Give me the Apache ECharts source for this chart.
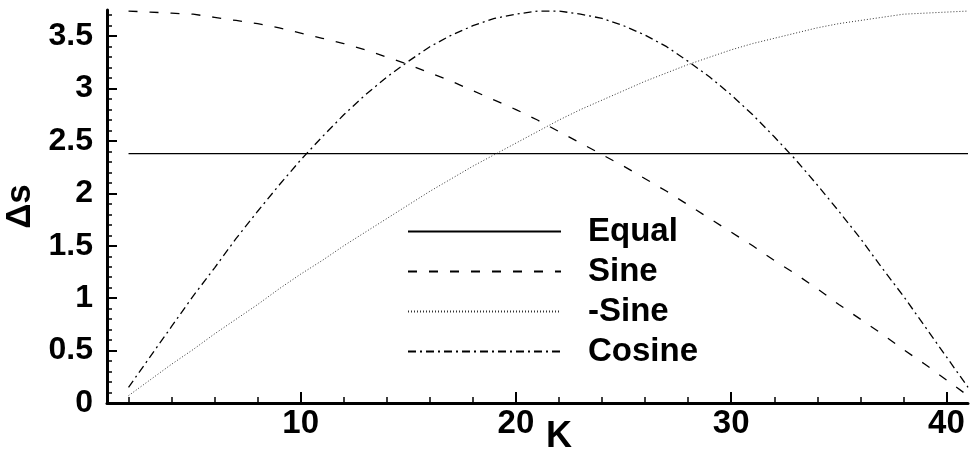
<!DOCTYPE html>
<html>
<head>
<meta charset="utf-8">
<script src="https://cdn.jsdelivr.net/npm/echarts@6/dist/echarts.min.js"></script>
<style>
  html, body { margin: 0; padding: 0; background: #fff; }
  #chart { width: 970px; height: 451px; }
</style>
</head>
<body>
<div id="chart"></div>
<script>
// ---- data ----
const K = [2,3,4,5,6,7,8,9,10,11,12,13,14,15,16,17,18,19,20,21,22,23,24,25,26,27,28,29,30,31,32,33,34,35,36,37,38,39,40,41];
const equalVals = [2.38,2.38,2.38,2.38,2.38,2.38,2.38,2.38,2.38,2.38,2.38,2.38,2.38,2.38,2.38,2.38,2.38,2.38,2.38,2.38,2.38,2.38,2.38,2.38,2.38,2.38,2.38,2.38,2.38,2.38,2.38,2.38,2.38,2.38,2.38,2.38,2.38,2.38,2.38,2.38];
const sineVals = [3.74,3.73,3.72,3.71,3.68,3.65,3.62,3.58,3.53,3.48,3.43,3.37,3.30,3.23,3.15,3.07,2.98,2.89,2.80,2.70,2.59,2.48,2.37,2.26,2.14,2.02,1.89,1.76,1.63,1.50,1.36,1.23,1.09,0.94,0.80,0.66,0.51,0.37,0.22,0.07];
const negSineVals = [0.07,0.22,0.37,0.51,0.66,0.80,0.94,1.09,1.23,1.36,1.50,1.63,1.76,1.89,2.02,2.14,2.26,2.37,2.48,2.59,2.70,2.80,2.89,2.98,3.07,3.15,3.23,3.30,3.37,3.43,3.48,3.53,3.58,3.62,3.65,3.68,3.71,3.72,3.73,3.74];
const cosineVals = [0.15,0.44,0.73,1.02,1.29,1.57,1.83,2.08,2.32,2.54,2.75,2.94,3.11,3.26,3.40,3.51,3.60,3.67,3.71,3.74,3.74,3.71,3.67,3.60,3.51,3.40,3.26,3.11,2.94,2.75,2.54,2.32,2.08,1.83,1.57,1.29,1.02,0.73,0.44,0.15];

const xMajorTicks = [10,20,30,40];
const xMinorTicks = [2,4,6,8,12,14,16,18,22,24,26,28,32,34,36,38];
const yMajorTicks = [0,0.5,1,1.5,2,2.5,3,3.5];
const yMinorTicks = [0.1,0.2,0.3,0.4,0.6,0.7,0.8,0.9,1.1,1.2,1.3,1.4,1.6,1.7,1.8,1.9,2.1,2.2,2.3,2.4,2.6,2.7,2.8,2.9,3.1,3.2,3.3,3.4,3.6,3.7];

const seriesNames = ['Equal','Sine','-Sine','Cosine'];
const xMin = 1, xMax = 41, yMin = 0, yMax = 3.75;

// ---- chart ----
const FONT = '"Liberation Sans", Arial, sans-serif';
const pairs = vals => K.map((k, i) => [k, vals[i]]);

const chart = echarts.init(document.getElementById('chart'), null, { renderer: 'canvas' });

const baseAxisLine = { show: true, lineStyle: { color: '#000', width: 3 } };

chart.setOption({
  animation: false,
  backgroundColor: '#fff',
  grid: { left: 107, right: 2, top: 10, bottom: 48, containLabel: false, outerBoundsMode: 'none' },
  xAxis: [
    {
      type: 'value', min: xMin, max: xMax, position: 'bottom',
      axisLine: baseAxisLine,
      axisTick: { show: true, inside: true, length: 11, lineStyle: { color: '#000', width: 2 }, customValues: xMajorTicks },
      axisLabel: { show: true, customValues: xMajorTicks, margin: 4, color: '#000', fontFamily: FONT, fontWeight: 'bold', fontSize: 33 },
      splitLine: { show: false }
    },
    {
      type: 'value', min: xMin, max: xMax, position: 'bottom',
      axisLine: { show: false },
      axisTick: { show: true, inside: true, length: 6, lineStyle: { color: '#000', width: 1.5 }, customValues: xMinorTicks },
      axisLabel: { show: false },
      splitLine: { show: false }
    }
  ],
  yAxis: [
    {
      type: 'value', min: yMin, max: yMax, position: 'left',
      name: 'Δs', nameLocation: 'middle', nameRotate: 90, nameGap: 65,
      nameTextStyle: { color: '#000', fontFamily: FONT, fontWeight: 'bold', fontSize: 35 },
      axisLine: baseAxisLine,
      axisTick: { show: true, inside: true, length: 10, lineStyle: { color: '#000', width: 2 }, customValues: yMajorTicks },
      axisLabel: { show: true, customValues: yMajorTicks, margin: 14, color: '#000', fontFamily: FONT, fontWeight: 'bold', fontSize: 32 },
      splitLine: { show: false }
    },
    {
      type: 'value', min: yMin, max: yMax, position: 'left',
      axisLine: { show: false },
      axisTick: { show: true, inside: true, length: 5, lineStyle: { color: '#000', width: 1.5 }, customValues: yMinorTicks },
      axisLabel: { show: false },
      splitLine: { show: false }
    }
  ],
  legend: {
    orient: 'vertical',
    left: 402, top: 210,
    itemWidth: 153, itemHeight: 30, itemGap: 7,
    data: seriesNames,
    itemStyle: { opacity: 0 },
    textStyle: { color: '#000', fontFamily: FONT, fontWeight: 'bold', fontSize: 33, padding: [0, 0, 0, 22] }
  },
  graphic: [
    {
      type: 'text', left: 546, top: 419,
      style: { text: 'K', fill: '#000', font: 'bold 36px ' + FONT }
    }
  ],
  series: [
    {
      name: seriesNames[0], type: 'line', data: pairs(equalVals), symbol: 'none',
      xAxisIndex: 0, yAxisIndex: 0,
      lineStyle: { color: '#000', width: 1.3, type: 'solid' }, itemStyle: { color: '#000' }
    },
    {
      name: seriesNames[1], type: 'line', data: pairs(sineVals), symbol: 'none',
      xAxisIndex: 0, yAxisIndex: 0,
      lineStyle: { color: '#000', width: 1.3, type: [9, 12] }, itemStyle: { color: '#000' }
    },
    {
      name: seriesNames[2], type: 'line', data: pairs(negSineVals), symbol: 'none',
      xAxisIndex: 0, yAxisIndex: 0,
      lineStyle: { color: '#333', width: 1, type: [1, 2] }, itemStyle: { color: '#333' }
    },
    {
      name: seriesNames[3], type: 'line', data: pairs(cosineVals), symbol: 'none',
      xAxisIndex: 0, yAxisIndex: 0,
      lineStyle: { color: '#000', width: 1.3, type: [8, 4, 2, 4] }, itemStyle: { color: '#000' }
    }
  ]
});
</script>
</body>
</html>
